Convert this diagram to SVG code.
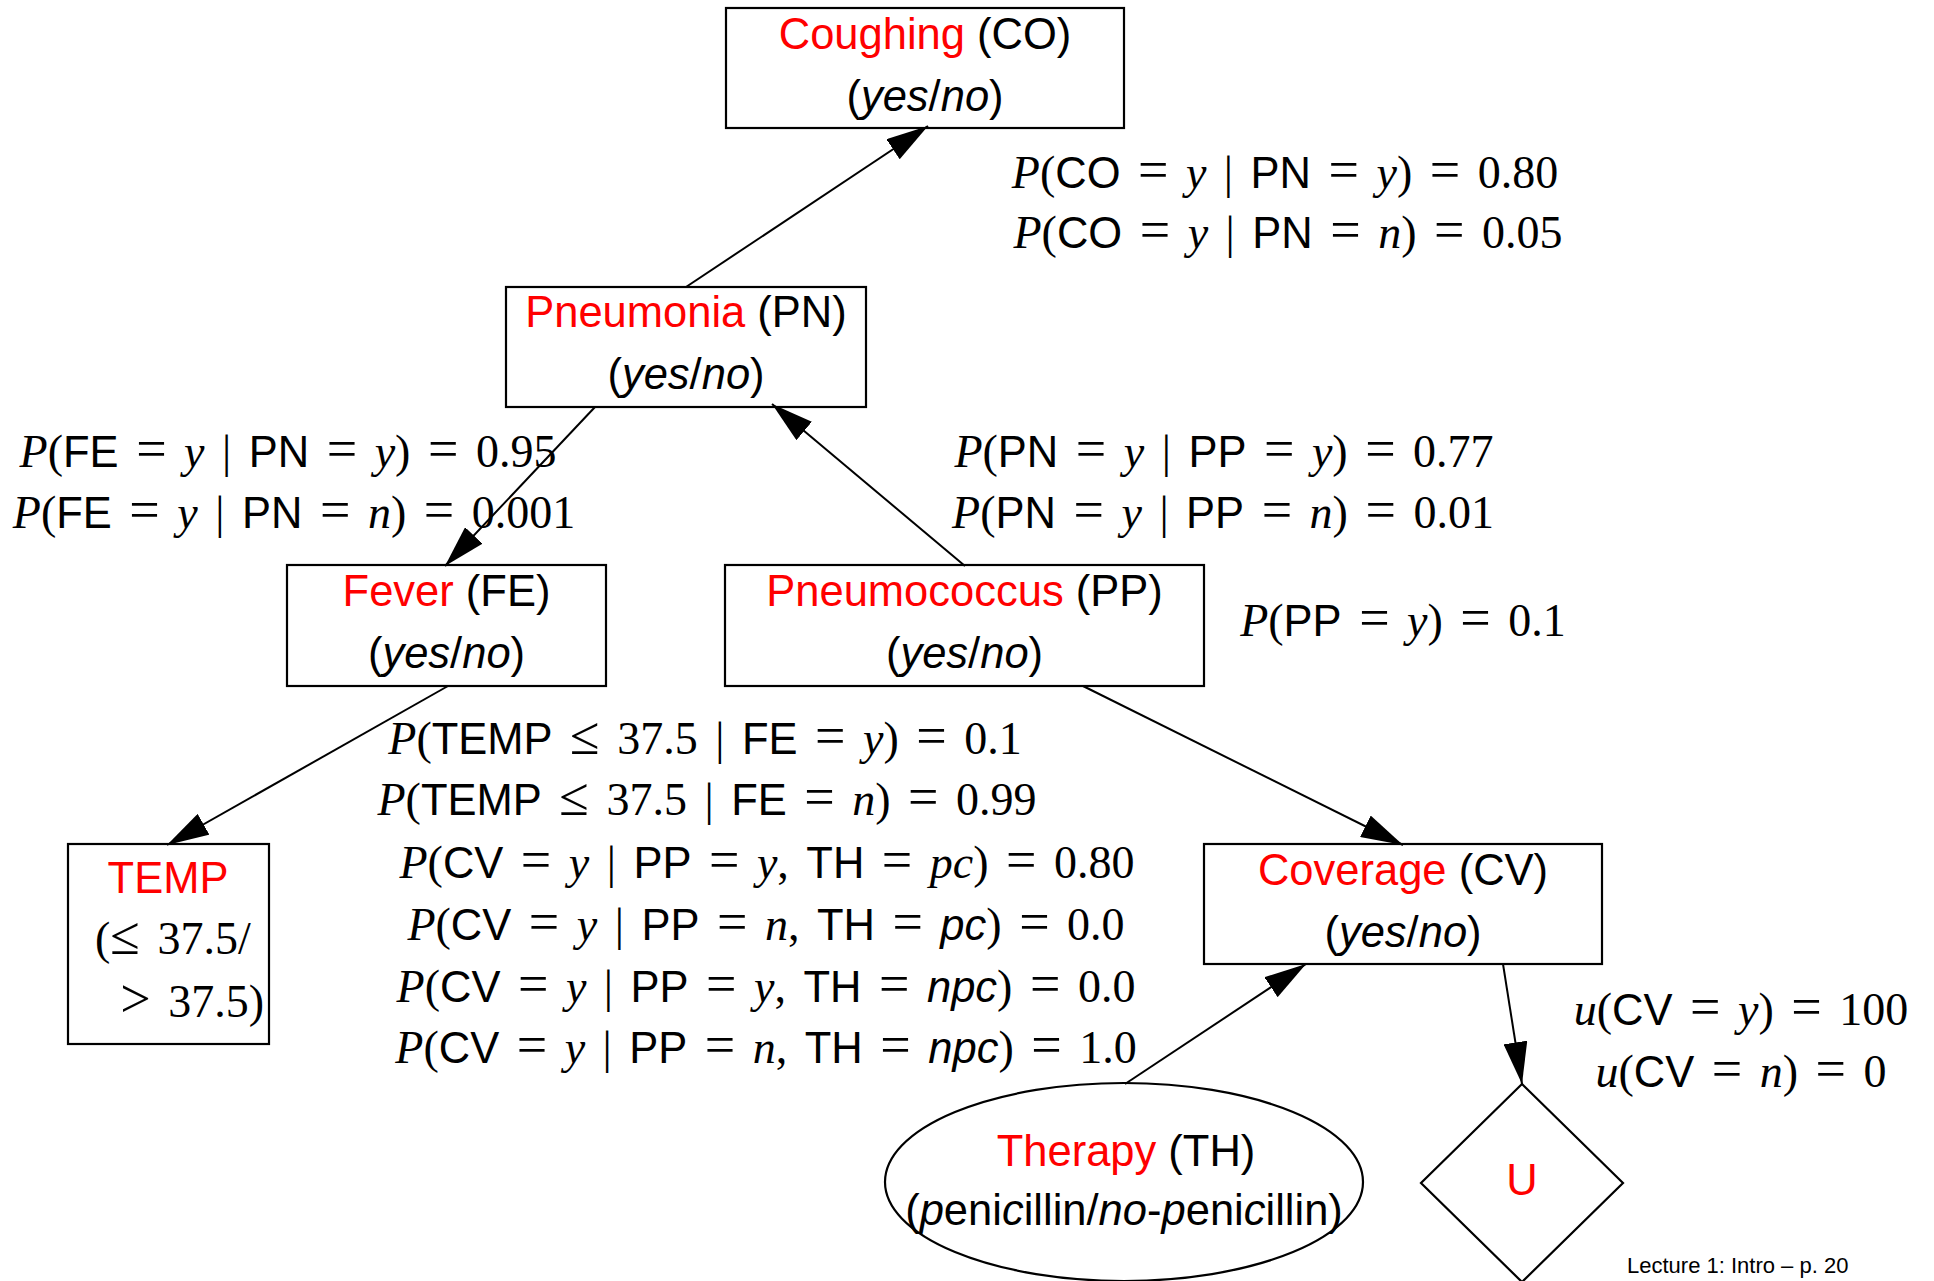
<svg xmlns="http://www.w3.org/2000/svg" width="1934" height="1281" viewBox="0 0 1934 1281">
  <defs>
    <style>
      .shape { fill: none; stroke: #000; stroke-width: 2.2; }
      .edge { fill: none; stroke: #000; stroke-width: 2; }
      .lbl { font-family: "Liberation Sans", Arial, sans-serif; font-size: 43.5px; text-anchor: middle; fill: #000; }
      .name { fill: #ff0000; }
      .it { font-style: italic; }
      .m { font-family: "Liberation Serif", "Times New Roman", serif; font-size: 46px; text-anchor: middle; word-spacing: 6px; fill: #000; }
      .mi { font-style: italic; }
      .eq { font-size: 54px; }
      .s { font-family: "Liberation Sans", Arial, sans-serif; font-size: 43.5px; }
      .si { font-family: "Liberation Sans", Arial, sans-serif; font-size: 43.5px; font-style: italic; }
      .foot { font-family: "Liberation Sans", Arial, sans-serif; font-size: 22px; fill: #000; }
    </style>
    <marker id="arrow" markerUnits="userSpaceOnUse" markerWidth="42" markerHeight="24" refX="42" refY="12" orient="auto">
      <path d="M0,0 L42,12 L0,24 z" fill="#000"/>
    </marker>
  </defs>

  <rect x="0" y="0" width="1934" height="1281" fill="#fff"/>

  <!-- connectors -->
  <g id="edges">
    <line class="edge" x1="686" y1="287" x2="928" y2="126" marker-end="url(#arrow)"/>
    <line class="edge" x1="595" y1="407" x2="445" y2="566" marker-end="url(#arrow)"/>
    <line class="edge" x1="965" y1="566" x2="772" y2="404" marker-end="url(#arrow)"/>
    <line class="edge" x1="448" y1="686" x2="167" y2="845" marker-end="url(#arrow)"/>
    <line class="edge" x1="1083" y1="686" x2="1403" y2="845" marker-end="url(#arrow)"/>
    <line class="edge" x1="1125" y1="1084" x2="1306" y2="964" marker-end="url(#arrow)"/>
    <line class="edge" x1="1503" y1="964" x2="1522" y2="1084" marker-end="url(#arrow)"/>
  </g>

  <!-- nodes -->
  <g id="node-co">
    <rect class="shape" x="726" y="8" width="398" height="120"/>
    <text class="lbl" x="925" y="48.5"><tspan class="name">Coughing</tspan> (CO)</text>
    <text class="lbl" x="925" y="110.5">(<tspan class="it">yes</tspan>/<tspan class="it">no</tspan>)</text>
  </g>

  <g id="node-pn">
    <rect class="shape" x="506" y="287" width="360" height="120"/>
    <text class="lbl" x="686" y="327"><tspan class="name">Pneumonia</tspan> (PN)</text>
    <text class="lbl" x="686" y="389">(<tspan class="it">yes</tspan>/<tspan class="it">no</tspan>)</text>
  </g>

  <g id="node-fe">
    <rect class="shape" x="287" y="565" width="319" height="121"/>
    <text class="lbl" x="446.5" y="605.5"><tspan class="name">Fever</tspan> (FE)</text>
    <text class="lbl" x="446.5" y="667.5">(<tspan class="it">yes</tspan>/<tspan class="it">no</tspan>)</text>
  </g>

  <g id="node-pp">
    <rect class="shape" x="725" y="565" width="479" height="121"/>
    <text class="lbl" x="964.5" y="606"><tspan class="name">Pneumococcus</tspan> (PP)</text>
    <text class="lbl" x="964.5" y="668">(<tspan class="it">yes</tspan>/<tspan class="it">no</tspan>)</text>
  </g>

  <g id="node-temp">
    <rect class="shape" x="68" y="844" width="201" height="200"/>
    <text class="lbl name" x="168" y="893">TEMP</text>
    <text class="m" x="95" y="954" style="text-anchor:start">(<tspan class="eq">≤</tspan> 37.5/</text>
    <text class="m" x="264" y="1017" style="text-anchor:end"><tspan class="eq">&gt;</tspan> 37.5)</text>
  </g>

  <g id="node-cv">
    <rect class="shape" x="1204" y="844" width="398" height="120"/>
    <text class="lbl" x="1403" y="884.5"><tspan class="name">Coverage</tspan> (CV)</text>
    <text class="lbl" x="1403" y="946.5">(<tspan class="it">yes</tspan>/<tspan class="it">no</tspan>)</text>
  </g>

  <g id="node-th">
    <ellipse class="shape" cx="1124" cy="1182" rx="239" ry="99"/>
    <text class="lbl" x="1126" y="1166"><tspan class="name">Therapy</tspan> (TH)</text>
    <text class="lbl" x="1124" y="1225">(<tspan class="it">p</tspan>eni<tspan class="it">c</tspan>illin/<tspan class="it">no</tspan>-<tspan class="it">p</tspan>eni<tspan class="it">c</tspan>illin)</text>
  </g>

  <g id="node-u">
    <polygon class="shape" points="1522,1084 1623,1183 1522,1282 1421,1183"/>
    <text class="lbl name" x="1522" y="1195">U</text>
  </g>

  <!-- probability tables and utilities -->
  <g id="tables">
    <text class="m" x="1285" y="188"><tspan class="mi">P</tspan>(<tspan class="s">CO</tspan> <tspan class="eq">=</tspan> <tspan class="mi">y</tspan> | <tspan class="s">PN</tspan> <tspan class="eq">=</tspan> <tspan class="mi">y</tspan>) <tspan class="eq">=</tspan> 0.80</text>
    <text class="m" x="1288" y="248"><tspan class="mi">P</tspan>(<tspan class="s">CO</tspan> <tspan class="eq">=</tspan> <tspan class="mi">y</tspan> | <tspan class="s">PN</tspan> <tspan class="eq">=</tspan> <tspan class="mi">n</tspan>) <tspan class="eq">=</tspan> 0.05</text>

    <text class="m" x="288" y="467"><tspan class="mi">P</tspan>(<tspan class="s">FE</tspan> <tspan class="eq">=</tspan> <tspan class="mi">y</tspan> | <tspan class="s">PN</tspan> <tspan class="eq">=</tspan> <tspan class="mi">y</tspan>) <tspan class="eq">=</tspan> 0.95</text>
    <text class="m" x="294" y="528"><tspan class="mi">P</tspan>(<tspan class="s">FE</tspan> <tspan class="eq">=</tspan> <tspan class="mi">y</tspan> | <tspan class="s">PN</tspan> <tspan class="eq">=</tspan> <tspan class="mi">n</tspan>) <tspan class="eq">=</tspan> 0.001</text>

    <text class="m" x="1224" y="467"><tspan class="mi">P</tspan>(<tspan class="s">PN</tspan> <tspan class="eq">=</tspan> <tspan class="mi">y</tspan> | <tspan class="s">PP</tspan> <tspan class="eq">=</tspan> <tspan class="mi">y</tspan>) <tspan class="eq">=</tspan> 0.77</text>
    <text class="m" x="1223" y="528"><tspan class="mi">P</tspan>(<tspan class="s">PN</tspan> <tspan class="eq">=</tspan> <tspan class="mi">y</tspan> | <tspan class="s">PP</tspan> <tspan class="eq">=</tspan> <tspan class="mi">n</tspan>) <tspan class="eq">=</tspan> 0.01</text>

    <text class="m" x="1403" y="636"><tspan class="mi">P</tspan>(<tspan class="s">PP</tspan> <tspan class="eq">=</tspan> <tspan class="mi">y</tspan>) <tspan class="eq">=</tspan> 0.1</text>

    <text class="m" x="705" y="754"><tspan class="mi">P</tspan>(<tspan class="s">TEMP</tspan> <tspan class="eq">≤</tspan> 37.5 | <tspan class="s">FE</tspan> <tspan class="eq">=</tspan> <tspan class="mi">y</tspan>) <tspan class="eq">=</tspan> 0.1</text>
    <text class="m" x="707" y="815"><tspan class="mi">P</tspan>(<tspan class="s">TEMP</tspan> <tspan class="eq">≤</tspan> 37.5 | <tspan class="s">FE</tspan> <tspan class="eq">=</tspan> <tspan class="mi">n</tspan>) <tspan class="eq">=</tspan> 0.99</text>
    <text class="m" x="767" y="878"><tspan class="mi">P</tspan>(<tspan class="s">CV</tspan> <tspan class="eq">=</tspan> <tspan class="mi">y</tspan> | <tspan class="s">PP</tspan> <tspan class="eq">=</tspan> <tspan class="mi">y</tspan>, <tspan class="s">TH</tspan> <tspan class="eq">=</tspan> <tspan class="mi">pc</tspan>) <tspan class="eq">=</tspan> 0.80</text>
    <text class="m" x="766" y="940"><tspan class="mi">P</tspan>(<tspan class="s">CV</tspan> <tspan class="eq">=</tspan> <tspan class="mi">y</tspan> | <tspan class="s">PP</tspan> <tspan class="eq">=</tspan> <tspan class="mi">n</tspan>, <tspan class="s">TH</tspan> <tspan class="eq">=</tspan> <tspan class="si">pc</tspan>) <tspan class="eq">=</tspan> 0.0</text>
    <text class="m" x="766" y="1002"><tspan class="mi">P</tspan>(<tspan class="s">CV</tspan> <tspan class="eq">=</tspan> <tspan class="mi">y</tspan> | <tspan class="s">PP</tspan> <tspan class="eq">=</tspan> <tspan class="mi">y</tspan>, <tspan class="s">TH</tspan> <tspan class="eq">=</tspan> <tspan class="si">npc</tspan>) <tspan class="eq">=</tspan> 0.0</text>
    <text class="m" x="766" y="1063"><tspan class="mi">P</tspan>(<tspan class="s">CV</tspan> <tspan class="eq">=</tspan> <tspan class="mi">y</tspan> | <tspan class="s">PP</tspan> <tspan class="eq">=</tspan> <tspan class="mi">n</tspan>, <tspan class="s">TH</tspan> <tspan class="eq">=</tspan> <tspan class="si">npc</tspan>) <tspan class="eq">=</tspan> 1.0</text>

    <text class="m" x="1741" y="1025"><tspan class="mi">u</tspan>(<tspan class="s">CV</tspan> <tspan class="eq">=</tspan> <tspan class="mi">y</tspan>) <tspan class="eq">=</tspan> 100</text>
    <text class="m" x="1741" y="1087"><tspan class="mi">u</tspan>(<tspan class="s">CV</tspan> <tspan class="eq">=</tspan> <tspan class="mi">n</tspan>) <tspan class="eq">=</tspan> 0</text>
  </g>

  <text class="foot" x="1627" y="1273">Lecture 1: Intro – p. 20</text>
</svg>
